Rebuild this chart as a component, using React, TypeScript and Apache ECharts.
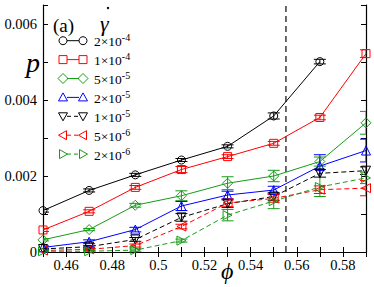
import React, { useEffect, useRef } from "react";
import * as echarts from "echarts";

const phi = [0.45, 0.47, 0.49, 0.51, 0.53, 0.55, 0.57, 0.59];
const p2e4 = [0.00109, 0.00162, 0.00203, 0.00242, 0.00278, 0.00358, 0.00501, null];
const p1e4 = [0.00058, 0.00107, 0.0017, 0.00217, 0.00251, 0.00286, 0.00354, 0.00522];
const p5e5 = [0.00032, 0.00059, 0.00123, 0.00148, 0.00181, 0.002, 0.00238, 0.0034];
const p2e5 = [0.00012, 0.00027, 0.00059, 0.00121, 0.0015, 0.00163, 0.00226, 0.00267];
const p1e5 = [0.00008, 0.00014, 0.00033, 0.00091, 0.00127, 0.00146, 0.00207, 0.00214];
const p5e6 = [0.00004, 0.00007, 0.00017, 0.00067, 0.00129, 0.00141, 0.00164, 0.00168];
const p2e6 = [0.00002, 0.00002, 0.00005, 0.0003, 0.00097, 0.00134, 0.00171, 0.00195];

const e2e4 = [0.00004, 0.00004, 0.00004, 0.00004, 0.00004, 0.00008, 0.00006, 0];
const e1e4 = [0.00004, 0.00004, 0.00005, 0.00008, 0.00005, 0.00005, 0.00006, 0.0001];
const e5e5 = [0.00003, 0.00003, 0.00005, 0.00013, 0.00017, 0.00015, 0.00012, 0.0003];
const e2e5 = [0.00004, 0.00005, 0.00006, 0.00012, 0.0001, 0.0001, 0.0003, 0.0003];
const e1e5 = [0.00002, 0.00003, 0.00005, 0.0001, 0.0001, 0.0001, 0.0001, 0.0001];
const e5e6 = [0.00002, 0.00002, 0.00004, 0.00006, 0.0001, 0.0001, 0.0001, 0.0002];
const e2e6 = [0.00002, 0.00002, 0.00003, 0.00004, 0.00015, 0.0002, 0.00025, 0.00015];

const rateMantissa = ["2", "1", "5", "2", "1", "5", "2"];
const rateExponent = ["-4", "-4", "-5", "-5", "-5", "-6", "-6"];

const phiJ = 0.5553;
const pRange = [0, 0.0065];

const GREEN = "#169c16";
const seriesDefs = [
  { y: p2e4, e: e2e4, color: "#000000", symbol: "circle", rot: 0, size: 8, dashed: false, shape: "circle" },
  { y: p1e4, e: e1e4, color: "#ff0000", symbol: "rect", rot: 0, size: 8, dashed: false, shape: "rect" },
  { y: p5e5, e: e5e5, color: GREEN, symbol: "diamond", rot: 0, size: 10, dashed: false, shape: "diamond" },
  { y: p2e5, e: e2e5, color: "#0000ff", symbol: "triangle", rot: 0, size: 9, dashed: false, shape: "up" },
  { y: p1e5, e: e1e5, color: "#000000", symbol: "triangle", rot: 180, size: 9, dashed: true, shape: "down" },
  { y: p5e6, e: e5e6, color: "#ff0000", symbol: "triangle", rot: 90, size: 9, dashed: true, shape: "left" },
  { y: p2e6, e: e2e6, color: GREEN, symbol: "triangle", rot: -90, size: 9, dashed: true, shape: "right" },
];

const FONT = "Liberation Serif";

function markerGraphic(shape: string, cx: number, cy: number, color: string) {
  const style = { fill: "none", stroke: color, lineWidth: 1 };
  const r = 4;
  switch (shape) {
    case "circle":
      return { type: "circle", shape: { cx, cy, r }, style };
    case "rect":
      return { type: "rect", shape: { x: cx - 4, y: cy - 4, width: 8, height: 8 }, style };
    case "diamond":
      return { type: "polygon", shape: { points: [[cx, cy - 5], [cx + 5, cy], [cx, cy + 5], [cx - 5, cy]] }, style };
    case "up":
      return { type: "polygon", shape: { points: [[cx, cy - 4.5], [cx + 4.5, cy + 3.5], [cx - 4.5, cy + 3.5]] }, style };
    case "down":
      return { type: "polygon", shape: { points: [[cx, cy + 4.5], [cx + 4.5, cy - 3.5], [cx - 4.5, cy - 3.5]] }, style };
    case "left":
      return { type: "polygon", shape: { points: [[cx - 4.5, cy], [cx + 3.5, cy - 4.5], [cx + 3.5, cy + 4.5]] }, style };
    default:
      return { type: "polygon", shape: { points: [[cx + 4.5, cy], [cx - 3.5, cy - 4.5], [cx - 3.5, cy + 4.5]] }, style };
  }
}

export default function App() {
  const ref = useRef<HTMLDivElement>(null);
  useEffect(() => {
    if (!ref.current) return;
    const chart = echarts.init(ref.current, undefined, { renderer: "svg" });

    const series: any[] = [];
    seriesDefs.forEach((d) => {
      const pts = phi.map((x, i) => [x, d.y[i]]).filter((p) => p[1] !== null);
      series.push({
        type: "line",
        data: pts,
        symbol: d.symbol,
        symbolSize: d.size,
        symbolRotate: d.rot,
        showAllSymbol: true,
        lineStyle: { color: d.color, width: 1, type: d.dashed ? [5, 3] : "solid" },
        itemStyle: { color: "rgba(0,0,0,0)", borderColor: d.color, borderWidth: 1 },
        z: 3,
        silent: true,
      });
      const errData = phi
        .map((x, i) => (d.y[i] === null ? null : [x, (d.y[i] as number) - d.e[i], (d.y[i] as number) + d.e[i]]))
        .filter((p) => p !== null);
      series.push({
        type: "custom",
        data: errData,
        clip: true,
        z: 2,
        silent: true,
        renderItem: (params: any, api: any) => {
          const lo = api.coord([api.value(0), api.value(1)]);
          const hi = api.coord([api.value(0), api.value(2)]);
          const w = 6;
          const st = { stroke: d.color, lineWidth: 1 };
          return {
            type: "group",
            children: [
              { type: "line", shape: { x1: lo[0], y1: lo[1], x2: hi[0], y2: hi[1] }, style: st },
              { type: "line", shape: { x1: lo[0] - w, y1: lo[1], x2: lo[0] + w, y2: lo[1] }, style: st },
              { type: "line", shape: { x1: hi[0] - w, y1: hi[1], x2: hi[0] + w, y2: hi[1] }, style: st },
            ],
          };
        },
      });
    });

    series.push({
      type: "line",
      data: [
        [phiJ, pRange[0]],
        [phiJ, pRange[1]],
      ],
      symbol: "none",
      lineStyle: { color: "#3a3a3a", width: 1.5, type: [6, 4] },
      z: 1,
      silent: true,
    });

    const legendGraphics: any[] = [];
    seriesDefs.forEach((d, i) => {
      const cy = 40.7 + i * 18.9;
      legendGraphics.push({
        type: "line",
        shape: { x1: 67, y1: cy, x2: 79, y2: cy },
        style: { stroke: d.color, lineWidth: 1, lineDash: d.dashed ? [4, 3] : null },
      });
      legendGraphics.push(markerGraphic(d.shape, 63, cy, d.color));
      legendGraphics.push(markerGraphic(d.shape, 83, cy, d.color));
      legendGraphics.push({
        type: "text",
        x: 94,
        y: cy + 1,
        style: {
          text: rateMantissa[i] + "×10{sup|" + rateExponent[i] + "}",
          fontFamily: FONT,
          fontSize: 13.5,
          fill: "#000",
          verticalAlign: "middle",
          lineHeight: 18,
          rich: {
            sup: { fontSize: 10, fontFamily: FONT, verticalAlign: "top", lineHeight: 10 },
          },
        },
      });
    });

    const xFmt = (v: number) => {
      const r = Math.round(v * 100);
      if (Math.abs(v * 100 - r) > 1e-6 || r % 2 !== 0) return "";
      return String(parseFloat((r / 100).toFixed(2)));
    };
    const yFmt = (v: number) => {
      const r = Math.round(v * 1000);
      if (Math.abs(v * 1000 - r) > 1e-6 || r % 2 !== 0) return "";
      if (r === 0) return "0";
      return (r / 1000).toFixed(3);
    };

    const axisCommon = {
      axisLine: { show: true, lineStyle: { color: "#000", width: 1.2 } },
      axisTick: { show: true, inside: true, length: 5, lineStyle: { color: "#000", width: 1 } },
      splitLine: { show: false },
    };

    chart.setOption({
      animation: false,
      textStyle: { fontFamily: FONT },
      grid: { left: 43, right: 8, top: 5, bottom: 35, containLabel: false },
      xAxis: [
        {
          type: "value",
          min: 0.45,
          max: 0.59,
          interval: 0.01,
          position: "bottom",
          ...axisCommon,
          axisLabel: { formatter: xFmt, fontFamily: FONT, fontSize: 14.5, color: "#000", margin: 5 },
        },
        {
          type: "value",
          min: 0.45,
          max: 0.59,
          interval: 0.01,
          position: "top",
          ...axisCommon,
          axisLabel: { show: false },
        },
      ],
      yAxis: [
        {
          type: "value",
          min: pRange[0],
          max: pRange[1],
          interval: 0.001,
          position: "left",
          ...axisCommon,
          axisLabel: { formatter: yFmt, fontFamily: FONT, fontSize: 14.5, color: "#000", margin: 6 },
        },
        {
          type: "value",
          min: pRange[0],
          max: pRange[1],
          interval: 0.001,
          position: "right",
          ...axisCommon,
          axisLabel: { show: false },
        },
      ],
      series,
      graphic: [
        {
          type: "text",
          x: 53,
          y: 25,
          style: { text: "(a)", fontFamily: FONT, fontSize: 19, fill: "#000", verticalAlign: "middle" },
        },
        {
          type: "text",
          x: 100,
          y: 23,
          style: { text: "γ", fontFamily: FONT, fontStyle: "italic", fontSize: 22, fill: "#000", verticalAlign: "middle" },
        },
        { type: "circle", shape: { cx: 108, cy: 8, r: 1.2 }, style: { fill: "#000" } },
        {
          type: "text",
          x: 26,
          y: 62,
          style: { text: "p", fontFamily: FONT, fontStyle: "italic", fontSize: 28, fill: "#000", verticalAlign: "middle" },
        },
        {
          type: "text",
          x: 221,
          y: 271,
          style: { text: "ϕ", fontFamily: FONT, fontStyle: "italic", fontSize: 24, fill: "#000", verticalAlign: "middle" },
        },
        ...legendGraphics,
      ],
    });
    return () => chart.dispose();
  }, []);
  return <div ref={ref} style={{ width: 374, height: 287, position: "absolute", left: 0, top: 0 }} />;
}
